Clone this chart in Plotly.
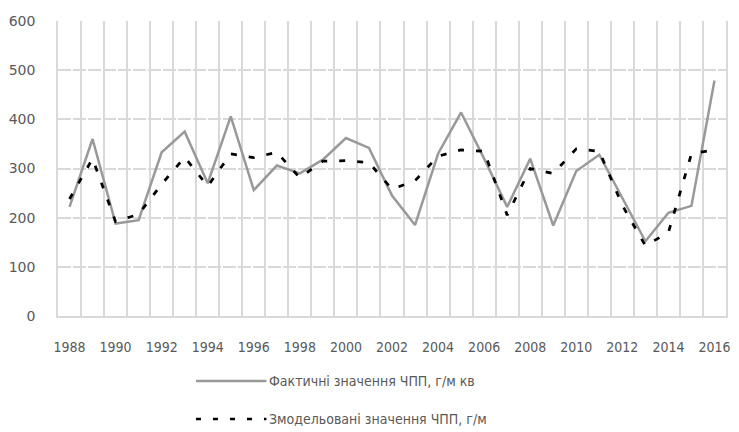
import plotly.graph_objects as go

years = list(range(1988, 2017))
actual = [222, 360, 188, 195, 333, 375, 270, 406, 256, 306, 290, 318, 362, 342, 245,
          185, 330, 414, 320, 222, 320, 184, 295, 328, 240, 152, 210, 224, 479]
modeled = [238, 320, 192, 207, 268, 323, 264, 330, 322, 333, 281, 315, 316, 312, 258,
           275, 325, 338, 335, 205, 300, 290, 340, 335, 225, 143, 170, 330, 338]
tick_years = list(range(1988, 2017, 2))
name_actual = "Фактичні значення ЧПП, г/м кв"
name_model = "Змодельовані значення ЧПП, г/м"

FONT = "DejaVu Sans, sans-serif"
FONT_C = "DejaVu Sans Condensed, DejaVu Sans, sans-serif"
GRID = "#d9d9d9"
TXT = "#595959"
C_ACT = "#999999"
C_MOD = "#000000"
DASH = "6px,12px"

W, H = 739, 432
ML, MR, MT, MB = 57, 9, 21, 116
PW, PH = W - ML - MR, H - MT - MB

fig = go.Figure()
fig.add_trace(go.Scatter(x=years, y=actual, mode="lines", name=name_actual,
                         showlegend=False,
                         line=dict(color=C_ACT, width=2.5)))
fig.add_trace(go.Scatter(x=years, y=modeled, mode="lines", name=name_model,
                         showlegend=False,
                         line=dict(color=C_MOD, width=2.75, dash=DASH)))

# custom legend (swatch lines + labels) below the plot
def px_x(px):
    return (px - ML) / PW

def px_y(py):
    return (H - MB - py) / PH

legend_items = [
    (name_actual, C_ACT, "solid", 381),
    (name_model, C_MOD, "5px,12px", 419),
]
for label, color, dash, ypx in legend_items:
    fig.add_shape(type="line", xref="paper", yref="paper",
                  x0=px_x(196), x1=px_x(267), y0=px_y(ypx), y1=px_y(ypx),
                  line=dict(color=color, width=2.5, dash=dash))
    fig.add_annotation(text=label, xref="paper", yref="paper",
                       x=px_x(268), y=px_y(ypx), xanchor="left", yanchor="middle",
                       showarrow=False,
                       font=dict(family=FONT_C, size=14, color=TXT))

fig.update_layout(
    width=W, height=H,
    margin=dict(l=ML, r=MR, t=MT, b=MB),
    paper_bgcolor="white", plot_bgcolor="white",
    font=dict(family=FONT, size=14, color=TXT),
    showlegend=False,
    xaxis=dict(range=[1987.5, 2016.5], tickmode="array", tickvals=tick_years,
               ticktext=[str(y) for y in tick_years], showgrid=False,
               ticks="", showline=True, linecolor=GRID, linewidth=1.5,
               zeroline=False, ticklabelstandoff=17, ticklabeloverflow="allow",
               tickfont=dict(family=FONT_C, size=14, color=TXT),
               minor=dict(tickmode="linear", tick0=1987.5, dtick=1, showgrid=True,
                          gridcolor=GRID, gridwidth=1.5, ticks="")),
    yaxis=dict(range=[0, 600], dtick=100, showgrid=True, gridcolor=GRID,
               gridwidth=1.5, griddash="13px,2px", zeroline=False,
               showline=True, linecolor=GRID, linewidth=1.5, mirror=True,
               ticks="", ticklabelstandoff=18,
               tickfont=dict(family=FONT, size=14, color=TXT)),
)

fig.write_html("out.html",
               config={"displayModeBar": False},
               post_script="document.body.style.margin='0px';"
                           "document.body.style.overflow='hidden';")
